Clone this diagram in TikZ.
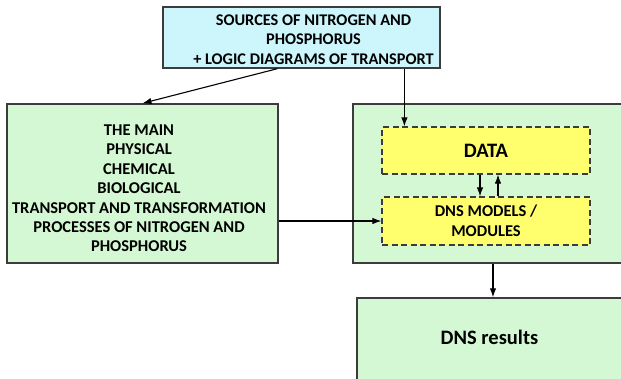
\documentclass[tikz,border=0pt]{standalone}
\usepackage{fontspec}
\setmainfont{Carlito}
\usetikzlibrary{arrows.meta,positioning}

\definecolor{srccyan}{RGB}{204,245,252}
\definecolor{boxgreen}{RGB}{212,248,212}
\definecolor{boxyellow}{RGB}{255,255,110}
\definecolor{edgegray}{RGB}{60,60,60}

\tikzset{
  plainbox/.style={draw=edgegray, line width=1.4pt, align=center, inner sep=0pt,
    font=\bfseries\fontsize{16.5}{19.5}\selectfont},
  boxtext/.style={align=center, inner sep=0pt, font=\bfseries\fontsize{16.3}{19.5}\selectfont},
  bigtext/.style={font=\bfseries\fontsize{20.5}{22}\selectfont},
  dashbox/.style={plainbox, fill=boxyellow, dash pattern=on 6pt off 3.5pt, line width=1.2pt},
  link/.style={->, line width=1.1pt, black}
}

\begin{document}
\begin{tikzpicture}[>={Latex[length=9pt,width=6.5pt]}, x=1pt, y=-1pt]
  \useasboundingbox (0,0) rectangle (621,378);

  % Sources box
  \node[plainbox, fill=srccyan, minimum width=277pt, minimum height=61pt]
    (src) at (301.5,37.5) {};
  \node[boxtext] (srctext) at ([xshift=12pt,yshift=-2pt]src.center)
    {SOURCES OF NITROGEN AND\\PHOSPHORUS\\+ LOGIC DIAGRAMS OF TRANSPORT};

  % Processes box
  \node[plainbox, fill=boxgreen, minimum width=271pt, minimum height=159pt]
    (proc) at (142.5,183.5) {};
  \node[boxtext, font=\bfseries\fontsize{16.5}{19.4}\selectfont]
    (proctext) at ([xshift=-3.5pt,yshift=-5pt]proc.center)
    {THE MAIN\\PHYSICAL\\CHEMICAL\\BIOLOGICAL\\TRANSPORT AND TRANSFORMATION\\PROCESSES OF NITROGEN AND\\PHOSPHORUS};

  % Model system (runs off the right edge)
  \node[plainbox, fill=boxgreen, minimum width=280pt, minimum height=159pt]
    (sys) at (493,183.5) {};

  % Inner boxes
  \node[dashbox, bigtext, minimum width=208pt, minimum height=47pt]
    (data) at (486,150.5) {DATA};
  \node[dashbox, minimum width=208pt, minimum height=48pt]
    (models) at (486,221) {DNS MODELS /\\MODULES};

  % Results
  \node[plainbox, fill=boxgreen, minimum width=272pt, minimum height=90pt]
    (results) at (493,343) {};
  \node[boxtext, bigtext] (restext) at ([xshift=-3.5pt,yshift=6pt]results.center)
    {DNS results};

  % Connectors
  \coordinate (datain) at ([xshift=23pt]data.north west);
  \draw[link] ([xshift=115pt]src.south west) -- (proc.north);
  \draw[link] (src.south -| datain) -- (datain);
  \draw[link] (models.west -| proc.east) -- (models.west);
  \draw[link] ([xshift=-6pt]data.south) -- ([xshift=-6pt]models.north);
  \draw[link] ([xshift=12pt]models.north) -- ([xshift=12pt]data.south);
  \draw[link] (sys.south) -- (sys.south |- results.north);

\end{tikzpicture}
\end{document}
